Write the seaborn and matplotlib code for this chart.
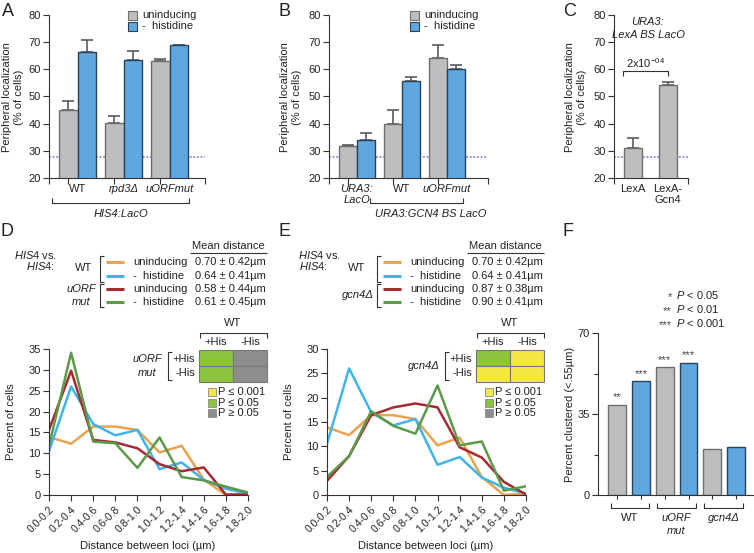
import numpy as np
import pandas as pd
import matplotlib
matplotlib.use("Agg")
import matplotlib.pyplot as plt
from matplotlib.patches import Rectangle
import seaborn as sns

# ---------------- data ----------------
COND = ["uninducing", "- histidine"]

A_groups = ["WT", "rpd3Δ", "uORFmut"]
A_uninducing = [45.0, 40.3, 62.9]
A_histidine = [66.5, 63.3, 68.8]
A_err_uninducing = [3.3, 2.7, 1.0]
A_err_histidine = [4.2, 3.5, 0.2]

B_groups = ["URA3:\nLacO", "WT", "uORFmut"]
B_uninducing = [31.8, 40.0, 64.0]
B_histidine = [34.0, 55.7, 60.0]
B_err_uninducing = [0.4, 5.0, 4.8]
B_err_histidine = [2.6, 1.6, 1.7]

C_groups = ["LexA", "LexA-\nGcn4"]
C_values = [31.0, 54.3]
C_err = [3.8, 1.2]

baseline = 27.7

bins = ["0.0-0.2", "0.2-0.4", "0.4-0.6", "0.6-0.8", "0.8-1.0",
        "1.0-1.2", "1.2-1.4", "1.4-1.6", "1.6-1.8", "1.8-2.0"]
wt_uninducing = [13.9, 12.3, 16.4, 16.4, 15.6, 10.2, 11.8, 3.7, 0.0, 0.3]
wt_histidine = [10.5, 26.0, 17.0, 14.3, 15.6, 6.2, 7.8, 3.6, 1.5, 0.3]
uorf_uninducing = [15.6, 29.8, 13.2, 12.6, 11.2, 7.4, 5.7, 6.6, 0.1, 0.1]
uorf_histidine = [11.8, 34.1, 12.8, 12.4, 6.5, 13.8, 4.3, 3.5, 2.0, 0.6]
gcn4_uninducing = [2.9, 8.0, 16.4, 18.0, 18.8, 18.0, 9.8, 7.7, 2.7, 0.1]
gcn4_histidine = [3.7, 8.0, 17.2, 14.2, 12.6, 22.5, 10.2, 11.0, 0.9, 1.8]

D_means = ["0.70 ± 0.42µm", "0.64 ± 0.41µm", "0.58 ± 0.44µm", "0.61 ± 0.45µm"]
E_means = ["0.70 ± 0.42µm", "0.64 ± 0.41µm", "0.87 ± 0.38µm", "0.90 ± 0.41µm"]
D_grid = [["p05", "ns"], ["p05", "ns"]]
E_grid = [["p05", "p001"], ["p001", "p001"]]

F_labels = ["WT uninducing", "WT - histidine", "uORF uninducing",
            "uORF - histidine", "gcn4 uninducing", "gcn4 - histidine"]
F_condition = COND * 3
F_values = [39.0, 49.1, 55.1, 57.0, 19.8, 20.9]
F_stars = ["**", "***", "***", "***", "", ""]

# ---------------- style ----------------
GRAY, GRAY_EC = "#bebebe", "#6e6e6e"
BLUE, BLUE_EC = "#60a7df", "#2b4257"
C_OR, C_BL, C_RD, C_GN = "#eba24e", "#3fb5ea", "#a52a32", "#5b9a48"
GRID_COL = {"p001": "#f3e743", "p05": "#8cc43e", "ns": "#8e8e8e"}
TXT = "#222222"

sns.set_style("ticks")
plt.rcParams["font.family"] = ["Liberation Sans", "DejaVu Sans"]
plt.rcParams["mathtext.fontset"] = "custom"
plt.rcParams["mathtext.rm"] = "Liberation Sans"
plt.rcParams["mathtext.it"] = "Liberation Sans:italic"
plt.rcParams["text.color"] = TXT

W, H = 754, 553
fig = plt.figure(figsize=(W / 100, H / 100), dpi=100)


def px_axes(l, t, r, b):
    return fig.add_axes([l / W, 1 - b / H, (r - l) / W, (b - t) / H])


def style(ax):
    for s in ["top", "right"]:
        ax.spines[s].set_visible(False)
    for s in ["left", "bottom"]:
        ax.spines[s].set_linewidth(0.8)
        ax.spines[s].set_color("#333333")
    ax.tick_params(direction="out", length=4, width=0.8, labelsize=8,
                   color="#333333", pad=2, labelcolor=TXT)
    ax.set_xlabel("")
    ax.set_ylabel("")


def xticks_style(ax, minor_pos):
    ax.tick_params(axis="x", which="major", length=0, pad=4)
    ax.set_xticks(minor_pos, minor=True)
    ax.tick_params(axis="x", which="minor", direction="out", length=4, width=0.8,
                   color="#333333")


def grouped(ax, groups, un, his, eun, ehis, xlim):
    df = pd.DataFrame({"group": groups * 2,
                       "condition": [COND[0]] * len(groups) + [COND[1]] * len(groups),
                       "value": un + his})
    sns.barplot(data=df, x="group", y="value", hue="condition", hue_order=COND,
                palette=[GRAY, BLUE], saturation=1, width=0.8, linewidth=1,
                errorbar=None, legend=False, ax=ax, zorder=2)
    for cont, ec, errs in zip(ax.containers, [GRAY_EC, BLUE_EC], [eun, ehis]):
        xs, ys = [], []
        for b in cont:
            b.set_edgecolor(ec)
            xs.append(b.get_x() + b.get_width() / 2)
            ys.append(b.get_height())
        ax.errorbar(xs, ys, yerr=[np.zeros(len(errs)), errs], fmt="none",
                    ecolor="#5a5a5a", elinewidth=1.2, capsize=4, capthick=1.2, zorder=1.5)
    ax.axhline(baseline, ls=(0, (1, 1)), color="#8a8ad0", lw=1.3, zorder=0.5)
    ax.set_ylim(20, 80)
    ax.set_yticks(range(20, 81, 10))
    ax.set_xlim(*xlim)
    style(ax)
    xticks_style(ax, [xlim[0]] + [i - 0.2 for i in range(len(groups))] + [xlim[1]])


# Panel A
axA = px_axes(49, 15, 205, 178)
grouped(axA, A_groups, A_uninducing, A_histidine, A_err_uninducing, A_err_histidine, (-0.62, 2.77))
for t in axA.get_xticklabels()[1:]:
    t.set_fontstyle("italic")

# Panel B
axB = px_axes(329, 15, 488, 178)
grouped(axB, B_groups, B_uninducing, B_histidine, B_err_uninducing, B_err_histidine, (-0.62, 2.91))
for i, t in enumerate(axB.get_xticklabels()):
    if i != 1:
        t.set_fontstyle("italic")

# Panel C
axC = px_axes(614, 15, 688, 178)
sns.barplot(x=C_groups, y=C_values, color=GRAY, saturation=1, width=0.51,
            linewidth=1, edgecolor=GRAY_EC, errorbar=None, ax=axC, zorder=2)
xsC = [b.get_x() + b.get_width() / 2 for b in axC.containers[0]]
axC.errorbar(xsC, C_values, yerr=[np.zeros(2), C_err], fmt="none", ecolor="#5a5a5a",
             elinewidth=1.2, capsize=4, capthick=1.2, zorder=1.5)
axC.axhline(baseline, ls=(0, (1, 1)), color="#8a8ad0", lw=1.3, zorder=0.5)
axC.set_ylim(20, 80)
axC.set_yticks(range(20, 81, 10))
axC.set_xlim(-0.54, 1.57)
style(axC)
xticks_style(axC, [-0.54, 1.57])


# Panels D, E
def lines(ax, series, ymax):
    names = ["a", "b", "c", "d"]
    df = pd.DataFrame({"bin": bins * 4,
                       "pct": sum(series, []),
                       "series": np.repeat(names, len(bins))})
    sns.lineplot(data=df, x="bin", y="pct", hue="series", hue_order=names,
                 palette=[C_OR, C_BL, C_RD, C_GN], sort=False, lw=1.8,
                 legend=False, ax=ax)
    ax.set_xlim(0, 9)
    ax.set_ylim(0, ymax)
    ax.set_yticks(range(0, ymax + 1, 5))
    style(ax)
    ax.set_xticks(range(len(bins)))
    ax.set_xticklabels(bins, rotation=45, ha="right", rotation_mode="anchor", fontsize=7.5)
    ax.tick_params(axis="x", pad=3)


axD = px_axes(49, 349, 248, 495)
lines(axD, [wt_uninducing, wt_histidine, uorf_uninducing, uorf_histidine], 35)
axE = px_axes(327, 349, 526, 495)
lines(axE, [wt_uninducing, wt_histidine, gcn4_uninducing, gcn4_histidine], 30)

# Panel F
axF = px_axes(598, 333, 754, 495)
dfF = pd.DataFrame({"label": F_labels, "condition": F_condition, "value": F_values})
sns.barplot(data=dfF, x="label", y="value", hue="condition", hue_order=COND,
            palette=[GRAY, BLUE], saturation=1, dodge=False, width=0.75, linewidth=1,
            errorbar=None, legend=False, ax=axF, zorder=2)
for cont, ec in zip(axF.containers, [GRAY_EC, BLUE_EC]):
    for b in cont:
        b.set_edgecolor(ec)
        xc = b.get_x() + b.get_width() / 2
        idx = int(round(xc))
        axF.text(xc, b.get_height() + 1.2, F_stars[idx], ha="center", va="bottom",
                 fontsize=8, color="#444444")
axF.set_ylim(0, 70)
axF.set_yticks([0, 35, 70])
axF.set_yticks([17.5, 52.5], minor=True)
axF.set_xlim(-0.8, 5.75)
style(axF)
axF.tick_params(which="minor", direction="out", length=3, width=0.8, color="#333333")
axF.set_xticks(range(6))
axF.set_xticklabels([""] * 6)
axF.tick_params(axis="x", length=3)

# ---------------- overlay annotations (pixel coords) ----------------
ov = fig.add_axes([0, 0, 1, 1])
ov.set_xlim(0, W)
ov.set_ylim(H, 0)
ov.axis("off")
ov.patch.set_visible(False)


def T(x, y, s, ha="left", va="center", size=8, **kw):
    ov.text(x, y, s, ha=ha, va=va, fontsize=size, **kw)


def L(xs, ys, color="#333333", lw=0.8):
    ov.plot(xs, ys, color=color, lw=lw, solid_capstyle="butt")


# panel letters
for x, y, s in [(2, 11, "A"), (279, 11, "B"), (563, 11, "C"),
                (1, 232, "D"), (279, 232, "E"), (562, 232, "F")]:
    T(x, y, s, size=13)

# y labels
for x in (13, 291, 576):
    T(x, 97, "Peripheral localization\n(% of cells)", ha="center", rotation=90,
      multialignment="center")
T(11, 422, "Percent of cells", ha="center", rotation=90)
T(289, 422, "Percent of cells", ha="center", rotation=90)
T(570, 414, "Percent clustered (<.55µm)", ha="center", rotation=90)
T(148, 546, "Distance between loci (µm)", ha="center")
T(426, 546, "Distance between loci (µm)", ha="center")

# legends A, B
for x0 in (128, 410):
    ov.add_patch(Rectangle((x0, 11), 9, 8.5, fc=GRAY, ec=GRAY_EC, lw=0.8))
    ov.add_patch(Rectangle((x0, 22), 9, 8.5, fc=BLUE, ec=BLUE_EC, lw=0.8))
    T(x0 + 14, 15, "uninducing")
    T(x0 + 14, 26, "-  histidine")


def under_bracket(x1, x2, y, h=5):
    L([x1, x1, x2, x2], [y - h, y, y, y - h])


under_bracket(52, 189, 203)
T(121, 214, "HIS4:LacO", ha="center", fontstyle="italic")
under_bracket(370, 463, 203)
T(375, 214, "URA3:GCN4 BS LacO", fontstyle="italic")

# C title and bracket
T(648, 22, "URA3:", ha="center", fontstyle="italic")
T(648, 35, "LexA BS LacO", ha="center", fontstyle="italic")
L([623, 623, 668, 668], [76, 71, 71, 76])
T(646, 63, "2x10$^{-04}$", ha="center")


def side_bracket(x, y1, y2, w=4):
    L([x + w, x, x, x + w], [y1, y1, y2, y2])


# D / E legends and p-value grids
for off, means in [(0, D_means), (277, E_means)]:
    if off == 0:
        T(57, 255, "$\\mathit{HIS4}$ vs.", ha="right")
        T(55, 266, "$\\mathit{HIS4}$:", ha="right")
        T(84, 268, "WT", ha="center")
        T(81, 289, "uORF", ha="center", fontstyle="italic")
        T(81, 302, "mut", ha="center", fontstyle="italic")
    else:
        T(341, 255, "$\\mathit{HIS4}$ vs.", ha="right")
        T(328, 266, "$\\mathit{HIS4}$:", ha="right")
        T(357, 268, "WT", ha="center")
        T(374, 295, "gcn4Δ", ha="right", fontstyle="italic")
    side_bracket(100 + off, 256, 282)
    side_bracket(100 + off, 284, 307)
    for yy, col, lab, m in zip([262, 276, 289, 302], [C_OR, C_BL, C_RD, C_GN],
                               ["uninducing", "-  histidine", "uninducing", "-  histidine"], means):
        L([106 + off, 124 + off], [yy, yy], color=col, lw=2.2)
        T(133 + off, yy, lab)
        T(195 + off, yy, m)
    T(192 + off, 246, "Mean distance")
    L([190 + off, 267 + off], [253, 253], lw=0.8)

    gx = 199 + off
    T(gx + 34, 323, "WT", ha="center")
    L([gx + 1, gx + 1, gx + 68, gx + 68], [338, 333, 333, 338])
    T(gx + 17, 342, "+His", ha="center")
    T(gx + 51, 342, "-His", ha="center")
    grid = D_grid if off == 0 else E_grid
    for r in range(2):
        for c in range(2):
            ov.add_patch(Rectangle((gx + 34 * c, 350 + 16 * r), 34, 16,
                                   fc=GRID_COL[grid[r][c]], ec="#777777", lw=0.8))
    T(gx - 4, 359, "+His", ha="right")
    T(gx - 4, 373, "-His", ha="right")
    side_bracket(gx - 31, 352, 380)
    if off == 0:
        T(147, 359, "uORF", ha="center", fontstyle="italic")
        T(147, 373, "mut", ha="center", fontstyle="italic")
    else:
        T(440, 366, "gcn4Δ", ha="right", fontstyle="italic")
    for yy, k, lab in [(392, "p001", "P ≤ 0.001"), (402.5, "p05", "P ≤ 0.05"), (413, "ns", "P ≥ 0.05")]:
        ov.add_patch(Rectangle((gx + 9, yy - 4), 8, 8, fc=GRID_COL[k], ec="#888888", lw=0.6))
        T(gx + 19, yy, lab)

# F legend and brackets
for yy, st, p in [(295, "*", "0.05"), (309, "**", "0.01"), (323, "***", "0.001")]:
    T(672, yy + 2, st, ha="right", color="#444444")
    T(676, yy, "$\\mathit{P}$ < " + p)
for x1, x2 in [(611, 649), (657, 696), (704, 743)]:
    L([x1, x1, x2, x2], [503, 508, 508, 503])
T(630, 518, "WT", ha="center")
T(676, 518, "uORF", ha="center", fontstyle="italic")
T(676, 531, "mut", ha="center", fontstyle="italic")
T(724, 518, "gcn4Δ", ha="center", fontstyle="italic")

fig.savefig("out.png", dpi=100)
